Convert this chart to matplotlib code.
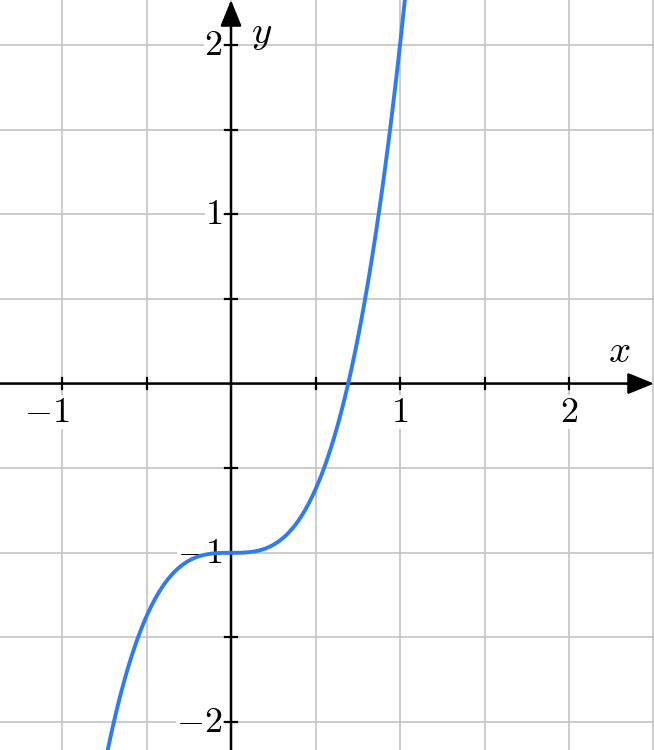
import numpy as np
import matplotlib.pyplot as plt

plt.rcParams['mathtext.fontset'] = 'cm'

# cubic: y = 3x^3 - 1
coeffs = [3, 0, 0, -1]
x_ticks = [-1, 1, 2]
y_ticks = [-2, -1, 1, 2]
minor_x = [-1, -0.5, 0.5, 1, 1.5, 2]
minor_y = [-2, -1.5, -1, -0.5, 0.5, 1, 1.5, 2]
grid_x = [-1, -0.5, 0, 0.5, 1, 1.5, 2, 2.5]
grid_y = [-2, -1.5, -1, -0.5, 0, 0.5, 1, 1.5, 2]

fig = plt.figure(figsize=(6.54, 7.5), dpi=100)
ax = fig.add_axes([0, 0, 1, 1])
xmin, xmax = -1.367, 2.503
ymin, ymax = -2.165, 2.266
ax.set_xlim(xmin, xmax)
ax.set_ylim(ymin, ymax)
ax.axis('off')

# grid
for g in grid_x:
    ax.axvline(g, color='#c4c4c4', lw=1.2, zorder=0)
for g in grid_y:
    ax.axhline(g, color='#c4c4c4', lw=1.2, zorder=0)

# axes with arrows
arrow = dict(arrowstyle='-|>,head_length=1.6,head_width=0.65', lw=1.8, color='black',
             shrinkA=0, shrinkB=0)
ax.annotate('', xy=(xmax, 0), xytext=(xmin, 0), arrowprops=arrow,
            annotation_clip=False, zorder=3)
ax.annotate('', xy=(0, ymax), xytext=(0, ymin), arrowprops=arrow,
            annotation_clip=False, zorder=3)

# tick marks
tx = 0.035
ty = 0.035
for t in minor_x:
    ax.plot([t, t], [-ty, ty], color='black', lw=1.6, zorder=3)
for t in minor_y:
    ax.plot([-tx, tx], [t, t], color='black', lw=1.6, zorder=3)

box = dict(fc='white', ec='none', pad=0)
for t in x_ticks:
    # digit sits under the tick, a minus sign hangs to the left
    dx = -11 if t < 0 else 0
    ax.annotate(r'$%d$' % t, (t, -0.07), xytext=(dx, 0), textcoords='offset points',
                ha='center', va='top', fontsize=26, bbox=box, zorder=2)
for t in y_ticks:
    ax.text(-0.05, t, r'$%d$' % t, ha='right', va='center', fontsize=26, bbox=box, zorder=2)

ax.text(2.3, 0.19, r'$x$', fontsize=28, ha='center', va='center')
ax.text(0.18, 2.07, r'$y$', fontsize=28, ha='center', va='center')

xs = np.linspace(xmin, xmax, 800)
ax.plot(xs, np.polyval(coeffs, xs), color='#2f7bf2', lw=2.8, zorder=4)

fig.savefig('out.png', dpi=100)
